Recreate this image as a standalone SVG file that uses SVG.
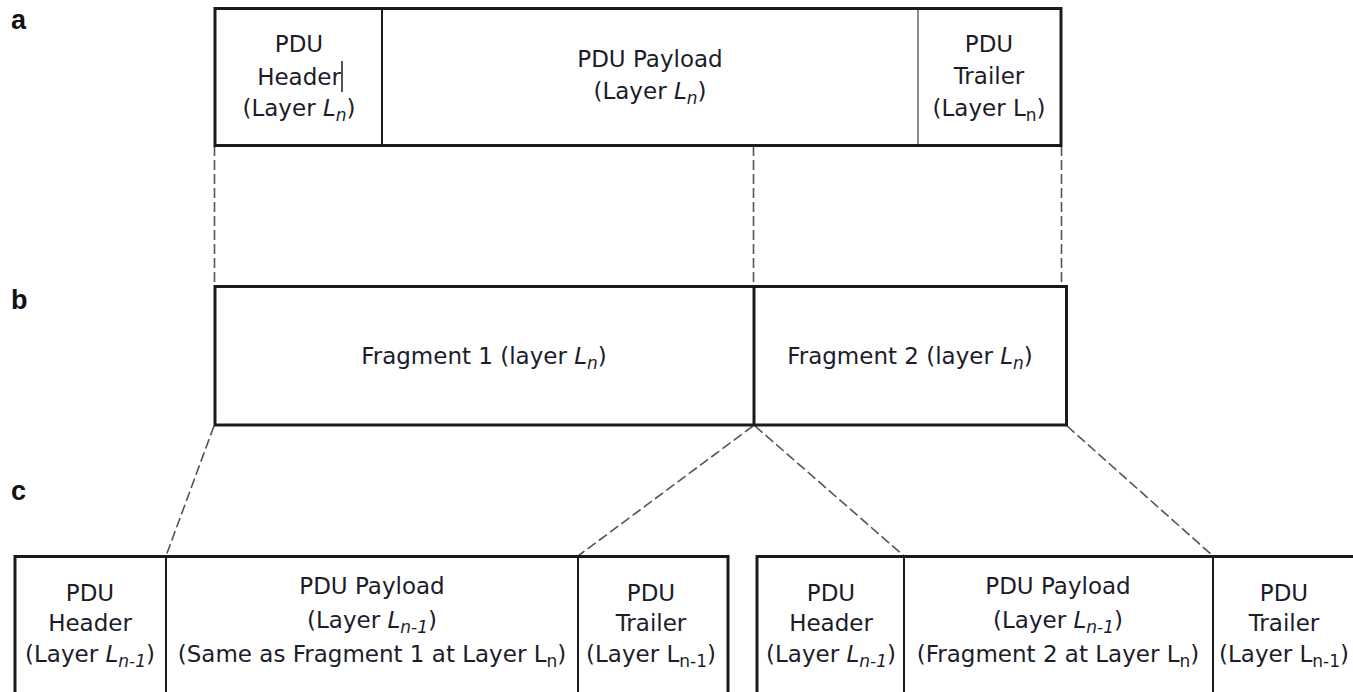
<svg xmlns="http://www.w3.org/2000/svg" width="1353" height="692" viewBox="0 0 1353 692">
  <style>
    .frame { fill: #ffffff; stroke: #1a1a1a; stroke-width: 3; }
    .div { stroke: #1a1a1a; stroke-width: 2; fill: none; }
    .div-light { stroke: #8a8a8a; stroke-width: 2; fill: none; }
    .dash { stroke: #555555; stroke-width: 1.6; stroke-dasharray: 10 4; fill: none; }
    .t { font-family: "DejaVu Sans", "Liberation Sans", sans-serif; font-size: 23px; fill: #1c1c2a; text-anchor: middle; }
    .it { font-style: italic; }
    .sub { font-size: 17px; }
    .lbl { font-family: "Liberation Sans", Arial, sans-serif; font-size: 27px; font-weight: bold; fill: #111111; }
  </style>
  <rect width="1353" height="692" fill="#ffffff"/>

  <!-- panel letters -->
  <text class="lbl" x="11" y="29">a</text>
  <text class="lbl" x="11" y="309">b</text>
  <text class="lbl" x="11" y="500">c</text>

  <!-- dashed guide lines between levels -->
  <g id="connectors">
    <line class="dash" x1="214.5" y1="146" x2="214.5" y2="286"/>
    <line class="dash" x1="753.5" y1="146" x2="753.5" y2="286"/>
    <line class="dash" x1="1061.5" y1="146" x2="1061.5" y2="286"/>
    <line class="dash" x1="214" y1="426" x2="166" y2="556"/>
    <line class="dash" x1="753" y1="426" x2="578" y2="556"/>
    <line class="dash" x1="755" y1="426" x2="904" y2="556"/>
    <line class="dash" x1="1067" y1="426" x2="1213" y2="556"/>
  </g>

  <!-- level a: PDU at layer Ln -->
  <g id="pdu-ln">
    <rect class="frame" x="215" y="8.5" width="846" height="137"/>
    <line class="div" x1="382" y1="9" x2="382" y2="145"/>
    <line class="div-light" x1="918" y1="10" x2="918" y2="144"/>
    <g id="pdu-ln-header">
      <text class="t" x="299" y="52">PDU</text>
      <text class="t" x="299" y="85">Header</text>
      <line x1="342" y1="61" x2="342" y2="92" stroke="#1a1a1a" stroke-width="1.5"/>
      <text class="t" x="299" y="116">(Layer <tspan class="it">L</tspan><tspan class="it sub" dy="5">n</tspan><tspan dy="-5">)</tspan></text>
    </g>
    <g id="pdu-ln-payload">
      <text class="t" x="650" y="67">PDU Payload</text>
      <text class="t" x="650" y="99">(Layer <tspan class="it">L</tspan><tspan class="it sub" dy="5">n</tspan><tspan dy="-5">)</tspan></text>
    </g>
    <g id="pdu-ln-trailer">
      <text class="t" x="989" y="52">PDU</text>
      <text class="t" x="989" y="84">Trailer</text>
      <text class="t" x="989" y="116">(Layer L<tspan class="sub" dy="5">n</tspan><tspan dy="-5">)</tspan></text>
    </g>
  </g>

  <!-- level b: fragments at layer Ln -->
  <g id="fragments">
    <rect class="frame" x="215" y="286.5" width="851.5" height="138.5"/>
    <line class="frame" x1="754" y1="287" x2="754" y2="425"/>
    <g id="fragment-1">
      <text class="t" x="484" y="364">Fragment 1 (layer <tspan class="it">L</tspan><tspan class="it sub" dy="5">n</tspan><tspan dy="-5">)</tspan></text>
    </g>
    <g id="fragment-2">
      <text class="t" x="910" y="364">Fragment 2 (layer <tspan class="it">L</tspan><tspan class="it sub" dy="5">n</tspan><tspan dy="-5">)</tspan></text>
    </g>
  </g>

  <!-- level c: first PDU at layer Ln-1 -->
  <g id="pdu-ln1-a">
    <rect class="frame" x="15" y="556.5" width="713" height="150"/>
    <line class="div" x1="166" y1="557" x2="166" y2="700"/>
    <line class="div" x1="578" y1="557" x2="578" y2="700"/>
    <g id="pdu-ln1-a-header">
      <text class="t" x="90" y="601">PDU</text>
      <text class="t" x="90" y="631">Header</text>
      <text class="t" x="90" y="662">(Layer <tspan class="it">L</tspan><tspan class="it sub" dy="5">n-1</tspan><tspan dy="-5">)</tspan></text>
    </g>
    <g id="pdu-ln1-a-payload">
      <text class="t" x="372" y="594">PDU Payload</text>
      <text class="t" x="372" y="628">(Layer <tspan class="it">L</tspan><tspan class="it sub" dy="5">n-1</tspan><tspan dy="-5">)</tspan></text>
      <text class="t" x="372" y="662">(Same as Fragment 1 at Layer L<tspan class="sub" dy="5">n</tspan><tspan dy="-5">)</tspan></text>
    </g>
    <g id="pdu-ln1-a-trailer">
      <text class="t" x="651" y="601">PDU</text>
      <text class="t" x="651" y="631">Trailer</text>
      <text class="t" x="651" y="662">(Layer L<tspan class="sub" dy="5">n-1</tspan><tspan dy="-5">)</tspan></text>
    </g>
  </g>

  <!-- level c: second PDU at layer Ln-1 -->
  <g id="pdu-ln1-b">
    <rect class="frame" x="757" y="556.5" width="610" height="150"/>
    <line class="div" x1="904" y1="557" x2="904" y2="700"/>
    <line class="div" x1="1213" y1="557" x2="1213" y2="700"/>
    <g id="pdu-ln1-b-header">
      <text class="t" x="831" y="601">PDU</text>
      <text class="t" x="831" y="631">Header</text>
      <text class="t" x="831" y="662">(Layer <tspan class="it">L</tspan><tspan class="it sub" dy="5">n-1</tspan><tspan dy="-5">)</tspan></text>
    </g>
    <g id="pdu-ln1-b-payload">
      <text class="t" x="1058" y="594">PDU Payload</text>
      <text class="t" x="1058" y="628">(Layer <tspan class="it">L</tspan><tspan class="it sub" dy="5">n-1</tspan><tspan dy="-5">)</tspan></text>
      <text class="t" x="1058" y="662">(Fragment 2 at Layer L<tspan class="sub" dy="5">n</tspan><tspan dy="-5">)</tspan></text>
    </g>
    <g id="pdu-ln1-b-trailer">
      <text class="t" x="1284" y="601">PDU</text>
      <text class="t" x="1284" y="631">Trailer</text>
      <text class="t" x="1284" y="662">(Layer L<tspan class="sub" dy="5">n-1</tspan><tspan dy="-5">)</tspan></text>
    </g>
  </g>
</svg>
